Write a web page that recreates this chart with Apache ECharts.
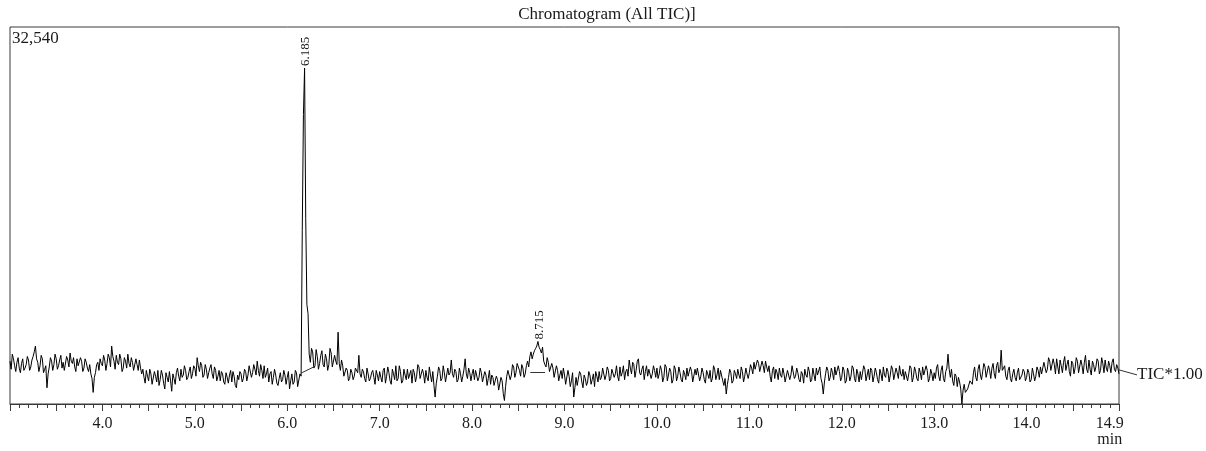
<!DOCTYPE html>
<html><head><meta charset="utf-8">
<script src="https://cdn.jsdelivr.net/npm/echarts@6/dist/echarts.min.js"></script>
<style>html,body{margin:0;padding:0;background:#fff}#c{width:1206px;height:451px}</style>
</head><body><div id="c"></div>
<script>
const chartTitle = 'Chromatogram (All TIC)]';
const scaleLabel = '32,540';
const traceLabel = 'TIC*1.00';
const unitLabel = 'min';
const yMax = 32540;
const tStart = 3.0, tStep = 0.025, tHalf = 0.0125;

// samples at t = 3.000, 3.025, ... (one row per minute)
const row3 = [3700,4300,3300,3600,3100,3500,2900,3400,3800,3200,4100,5000,3600,3300,3900,3000,1400,3200,3700,3400,3900,3300,4200,3600,3000,3800,4400,3500,3200,3900,3400,3700,3100,3600,2800,2600,1000,2700,3600,3900];
const row4 = [3300,3800,3500,4000,5000,3700,4200,3400,3900,3100,3700,4300,3200,3600,3000,3400,3800,2600,2300,2900,2000,2600,1800,2400,2900,2100,2500,1300,2300,2800,1100,2200,2700,2400,3000,2500,2900,2300,3200,2600];
const row5 = [3100,4000,2800,3300,2500,3000,2700,3400,2200,2900,2400,2000,2600,1700,2300,2500,1900,2400,1400,2100,2600,2200,2800,2500,3200,2700,3000,3700,2400,2900,3300,2600,1900,2800,2300,2500,1600,2700,2100,2500];
const row6 = [2300,1300,2600,1900,2700,1600,2400,25000,16000,7800,3600,4500,3300,4100,3500,4600,3200,3900,3400,4400,3100,3700,6200,2900,3300,2500,2900,2200,2700,2400,3000,4200,2300,2800,1900,2600,2200,2900,1700,2500];
const row7 = [2800,1900,3100,2400,2700,1700,2600,3300,2200,2800,2000,2500,3000,2300,1800,2700,2400,3200,2100,2600,2900,2000,2500,2800,600,2400,2900,2200,2700,1800,2500,3800,2300,2800,2100,2600,2400,3900,2200,2700];
const row8 = [2600,2100,2900,2300,2700,1800,2500,2200,1700,2300,1500,2100,1300,2000,300,2400,3000,2500,3200,2700,3400,2400,3100,2600,3700,4100,3900,4600,5000,4900,4400,3700,3200,3600,2700,3100,2400,2900,2500,2200];
const row9 = [2500,1800,2400,2000,600,2300,1700,2600,1400,2200,1900,2500,2100,1500,2400,2800,2300,3000,2500,2900,2200,3100,2600,2400,3200,2700,2100,3000,3800,2600,3400,2900,3900,2500,3300,2800,2400,3100,2600,2900];
const row10 = [3100,2600,2900,2300,3200,2500,2800,2100,3000,2400,2700,1900,2600,3100,2300,2800,2000,2500,3200,2400,2700,1800,2600,2900,2200,3000,2500,2100,2800,1600,860,2300,2700,2000,2600,3000,2200,2800,2400,2600];
const row11 = [2700,3100,3600,3000,3500,2900,3300,3700,2800,2400,2900,2200,2700,3100,2300,2600,2000,2800,2500,3200,2400,2700,1900,2600,3000,2300,2800,2100,2500,3100,2400,2200,860,2600,2900,2300,2700,3200,2400,2800];
const row12 = [2300,2900,2000,2700,2400,3100,1900,2600,2800,2200,3000,2500,2100,2900,2400,2700,1800,2600,3200,2300,2800,2500,3000,2200,2700,3300,2400,2100,2900,2600,3100,2300,2800,2000,2700,3200,2400,2900,2200,2600];
const row13 = [2700,3100,2400,2900,2200,2800,4300,2300,2000,2600,1500,1900,0,1700,900,1400,2100,2700,2300,3000,2500,2800,3200,2400,2900,3100,2600,3300,2700,4650,2800,2400,2900,2200,2600,2300,2700,2100,2500,2800];
const row14 = [2300,2700,2100,2600,2400,2900,3200,2700,3500,3000,3700,2800,3400,3900,2600,3300,3600,2900,3800,2400,3500,3100,3700,2700,3300,3600,3000,3800,2500,3400,3200,3700,2900,3500,3800,2800,3300,3600,3000,3400];
// samples half a step later (t = 3.0125, 3.0375, ...)
const mid3 = [3000,3900,2800,4000,2700,3900,3100,4100,2900,3800,4500,3900,2800,4200,2700,3300,2600,4000,2900,4300,3000,3800,3100,2900,4100,3200,3700,4000,2800,3300,4000,2800,3900,3100,3400,2200,2300,3400,2900,3500];
const mid4 = [4200,2900,4300,3200,4100,3000,3600,4300,2800,4000,3100,3500,4000,2900,3900,2900,3100,3000,1800,2400,3000,1700,2800,1900,1600,2900,1800,2700,1900,2000,2600,1700,3100,2000,2300,3300,2100,2800,2200,3300];
const mid5 = [2400,3300,3600,2300,3400,2200,3100,2600,3200,2000,2900,2800,1900,2700,1800,2900,2800,1600,2500,2800,1900,3000,2000,3300,2300,3400,2500,2900,3400,2200,2300,3100,2600,1700,3000,1800,2200,1900,2900,1700];
const mid6 = [2800,2000,1700,2900,1500,2600,15000,29000,8600,4300,4800,3100,4700,3000,4200,3400,4300,2900,4800,3200,4200,3400,3500,3800,2400,3100,2000,3000,2100,3100,2700,2600,3000,2200,3100,2000,2700,2300,2900,2000];
const mid7 = [2300,2900,1800,3200,2000,3000,2100,2000,3300,1800,3000,2100,2200,2900,3000,1900,3400,2200,3000,1800,2300,3200,1900,1600,1800,3200,2000,3300,1900,3100,2700,2600,3000,1900,3100,1900,3000,2600,3100,2000];
const mid8 = [3000,2900,2000,3100,1900,2800,1600,2900,2500,1600,2400,1200,2300,900,1500,2900,2100,3400,2300,3500,2900,3400,2300,3300,3200,4500,4300,4800,5400,4700,4900,3400,4000,2800,3500,2300,3300,2000,2900,3100];
const mid9 = [1700,2900,1500,2700,1400,1600,2800,1900,2500,1600,2800,1700,2600,2800,1900,2100,3100,2100,3200,2000,3000,2300,3300,2000,2400,3300,2800,2400,3100,3600,2300,3700,2700,3000,2100,3300,3000,2200,3300,2300];
const mid10 = [2200,3300,1900,3400,2000,3100,1800,3300,2000,3200,2100,2900,2100,2400,3200,1900,3000,3100,2000,3100,2100,2900,2200,1900,3300,2100,3100,2900,2000,2200,1700,3000,1800,2900,2200,2500,3200,1900,3100,2200];
const mid11 = [3400,2600,3000,3800,2800,3700,2700,3200,3300,1900,3200,3000,2100,2500,3100,1900,2900,2100,3300,2200,3100,2100,2800,1800,2500,3200,1900,3100,2000,2500,3200,1800,1900,3200,2000,3100,2100,2500,3300,2000];
const mid12 = [3200,1800,3100,2000,3300,2200,3000,1900,2100,3300,2000,3000,3100,1900,3100,2100,3000,2000,2500,3100,1900,3300,2100,3100,2200,2600,3000,2800,2000,3300,1900,3200,2200,3100,2100,2500,3300,1900,3000,2000];
const mid13 = [2200,3400,2000,3300,1900,3100,3000,3000,1600,2400,2300,1300,1200,1000,1300,2000,1700,3200,2000,3400,2100,3500,2300,3300,2200,3500,2200,3600,3000,2900,3300,2100,3200,1900,3000,2000,3100,2000,3000,2000];
const mid14 = [3000,1900,3100,2000,3200,2300,2600,3600,2700,4000,2900,3900,2600,3200,3800,2700,4100,3400,2800,3700,2600,4000,2700,3800,2600,4200,2700,3000,3700,2800,3900,2600,4000,2700,3100,3700,2700,3900,2800,3100];
const lastValue = 2600; // t = 15.000

const xLabelValues = [4, 5, 6, 7, 8, 9, 10, 11, 12, 13, 14, 14.9];
const peakTimes = [6.185, 8.715];
const peakHeights = [29000, 5400];
const peakLabels = ['6.185', '8.715'];
const baseline1 = [[6.15, 2670], [6.285, 3190]];
const baseline2 = [[8.63, 2730], [8.79, 2730]];

const mainRows = [row3,row4,row5,row6,row7,row8,row9,row10,row11,row12,row13,row14];
const midRows = [mid3,mid4,mid5,mid6,mid7,mid8,mid9,mid10,mid11,mid12,mid13,mid14];
const traceData = [];
let k = 0;
mainRows.forEach((r, ri) => {
  r.forEach((v, i) => {
    const t = tStart + k * tStep;
    traceData.push([+t.toFixed(4), v]);
    traceData.push([+(t + tHalf).toFixed(4), midRows[ri][i]]);
    k++;
  });
});
traceData.push([+(tStart + k * tStep).toFixed(4), lastValue]);

const FONT = "'Liberation Serif', 'DejaVu Serif', serif";
const INK = '#1a1a1a';

const chart = echarts.init(document.getElementById('c'), null, {renderer: 'canvas'});
chart.setOption({
  animation: false,
  backgroundColor: '#fff',
  grid: {left: 10, right: 87, top: 27, bottom: 47, show: true, borderColor: '#3a3a3a', borderWidth: 1, backgroundColor: 'transparent'},
  xAxis: {
    type: 'value', min: 3, max: 15, interval: 0.5,
    axisLine: {show: true, lineStyle: {color: '#3a3a3a', width: 1}},
    axisTick: {show: true, length: 7, lineStyle: {color: '#3a3a3a'}},
    minorTick: {show: true, splitNumber: 5, length: 4, lineStyle: {color: '#3a3a3a'}},
    splitLine: {show: false},
    axisLabel: {customValues: xLabelValues, formatter: v => v.toFixed(1), fontFamily: FONT, fontSize: 16, color: INK, margin: 12}
  },
  yAxis: {
    type: 'value', min: 0, max: yMax,
    axisLine: {show: false}, axisTick: {show: false}, axisLabel: {show: false}, splitLine: {show: false}
  },
  series: [{
    type: 'line', data: traceData, showSymbol: false, symbol: 'none',
    lineStyle: {color: '#000', width: 1}, silent: true,
    markLine: {
      silent: true, symbol: 'none', label: {show: false},
      lineStyle: {color: '#333', width: 1, type: 'solid'},
      data: [
        [{coord: baseline1[0]}, {coord: baseline1[1]}],
        [{coord: baseline2[0]}, {coord: baseline2[1]}]
      ]
    }
  }]
});

function px(p) { return chart.convertToPixel({gridIndex: 0}, p); }
const g = [];
g.push({type: 'text', x: 607, y: 15, style: {text: chartTitle, font: '17px ' + FONT, fill: INK, align: 'center', verticalAlign: 'middle'}});
g.push({type: 'text', x: 12, y: 39, style: {text: scaleLabel, font: '17px ' + FONT, fill: INK, align: 'left', verticalAlign: 'middle'}});
peakTimes.forEach((t, i) => {
  const p = px([t, peakHeights[i]]);
  g.push({type: 'text', x: p[0] + 1, y: p[1] - 2, rotation: Math.PI / 2,
    style: {text: peakLabels[i], font: '13px ' + FONT, fill: INK, align: 'left', verticalAlign: 'middle'}});
});
const lastPt = traceData[traceData.length - 1];
const endP = px(lastPt);
g.push({type: 'line', shape: {x1: endP[0], y1: endP[1] - 4, x2: endP[0] + 18, y2: endP[1] + 1}, style: {stroke: '#333', lineWidth: 1}});
g.push({type: 'text', x: endP[0] + 18, y: endP[1] + 1, style: {text: traceLabel, font: '17px ' + FONT, fill: INK, align: 'left', verticalAlign: 'middle'}});
const minP = px([14.9, 0]);
g.push({type: 'text', x: minP[0], y: 440, style: {text: unitLabel, font: '16px ' + FONT, fill: INK, align: 'center', verticalAlign: 'middle'}});
chart.setOption({graphic: g});
</script></body></html>
